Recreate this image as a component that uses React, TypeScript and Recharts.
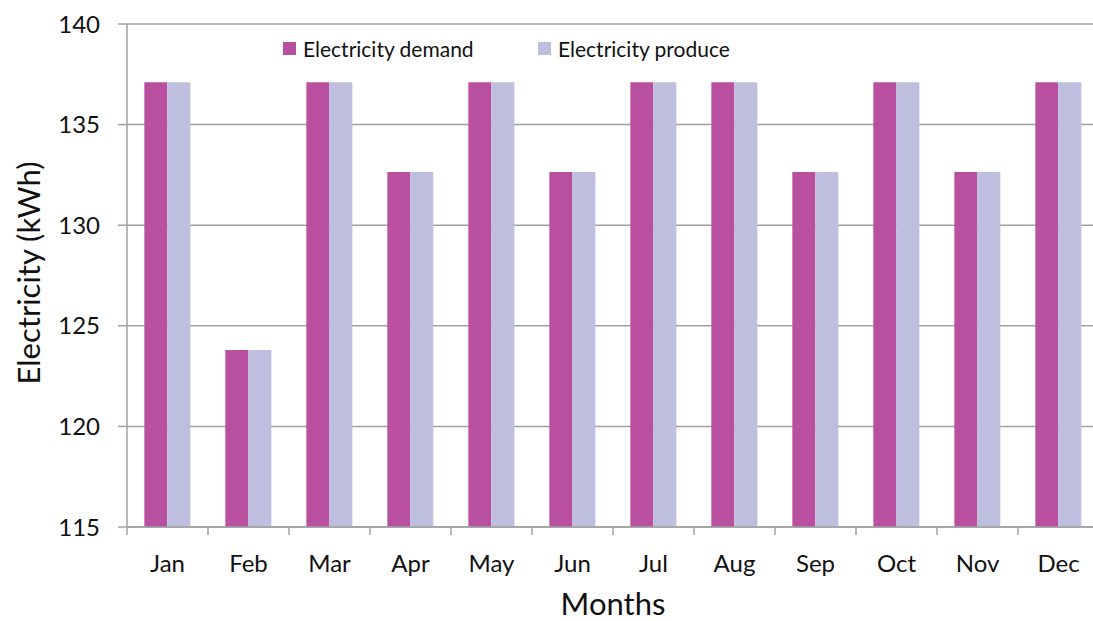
import React from 'react';
import { BarChart, Bar, XAxis, YAxis, CartesianGrid, Legend } from 'recharts';

const months = ['Jan', 'Feb', 'Mar', 'Apr', 'May', 'Jun', 'Jul', 'Aug', 'Sep', 'Oct', 'Nov', 'Dec'];
const demand = [137.1, 123.8, 137.1, 132.65, 137.1, 132.65, 137.1, 137.1, 132.65, 137.1, 132.65, 137.1];
const produce = [137.1, 123.8, 137.1, 132.65, 137.1, 132.65, 137.1, 137.1, 132.65, 137.1, 132.65, 137.1];
const yTicks = [115, 120, 125, 130, 135, 140];
const seriesNames = ['Electricity demand', 'Electricity produce'];

const data = months.map((m, i) => ({ month: m, demand: demand[i], produce: produce[i] }));

const FONT = 'Lato, "Open Sans", sans-serif';
const DEMAND_COLOR = '#B9509F';
const PRODUCE_COLOR = '#BEBEDE';
const AXIS_COLOR = '#A0A0A0';

const XTick = (props: any) => {
  const { x, y, payload } = props;
  const half = 40.5;
  return (
    <g>
      <line x1={x - half} y1={y - 8} x2={x - half} y2={y} stroke={AXIS_COLOR} strokeWidth={1.5} />
      <text x={x} y={y + 20} dy="0.71em" textAnchor="middle" fill="#111" fontSize={24} fontFamily={FONT}>
        {payload.value}
      </text>
    </g>
  );
};

const LegendContent = () => (
  <div style={{ display: 'flex', fontFamily: FONT, fontSize: 21, color: '#111', height: 0, overflow: 'visible' }}>
    {[DEMAND_COLOR, PRODUCE_COLOR].map((c, i) => (
      <div key={i} style={{ display: 'flex', alignItems: 'center', width: i === 0 ? 255 : 'auto', height: 26, flexShrink: 0 }}>
        <span style={{ display: 'inline-block', width: 13, height: 13, background: c, marginRight: 7 }} />
        <span style={{ whiteSpace: 'nowrap' }}>{seriesNames[i]}</span>
      </div>
    ))}
  </div>
);

export default function App() {
  return (
    <div style={{ position: 'absolute', left: 0, top: 0, width: 1093, height: 621, overflow: 'hidden', background: '#fff' }}>
      <BarChart
        width={1100}
        height={621}
        data={data}
        margin={{ top: 24, right: 1, left: 0, bottom: 0 }}
        barCategoryGap="21.4%"
        barGap={0}
      >
        <CartesianGrid vertical={false} stroke={AXIS_COLOR} strokeWidth={1.5} />
        <XAxis
          dataKey="month"
          height={94}
          tickLine={false}
          axisLine={{ stroke: AXIS_COLOR, strokeWidth: 1.5 }}
          tick={<XTick />}
          interval={0}
          label={{ value: 'Months', position: 'insideBottom', offset: 6, fontSize: 31, fontFamily: FONT, fill: '#111' }}
        />
        <YAxis
          width={127}
          domain={[115, 140]}
          ticks={yTicks}
          interval={0}
          tickSize={9}
          tickMargin={18}
          tickLine={{ stroke: AXIS_COLOR, strokeWidth: 1.5 }}
          axisLine={{ stroke: AXIS_COLOR, strokeWidth: 1.5 }}
          tick={{ fontSize: 24, fontFamily: FONT, fill: '#111' }}
          label={{
            content: () => (
              <text
                x={28}
                y={273}
                transform="rotate(-90 28 273)"
                textAnchor="middle"
                dominantBaseline="central"
                fontSize={31}
                fontFamily={FONT}
                fill="#111"
              >
                Electricity (kWh)
              </text>
            ),
          }}
        />
        <Legend
          content={<LegendContent />}
          wrapperStyle={{ position: 'absolute', top: 35, left: 283, width: 'auto', height: 0 }}
        />
        <Bar dataKey="demand" name={seriesNames[0]} fill={DEMAND_COLOR} isAnimationActive={false} />
        <Bar dataKey="produce" name={seriesNames[1]} fill={PRODUCE_COLOR} isAnimationActive={false} />
      </BarChart>
    </div>
  );
}
